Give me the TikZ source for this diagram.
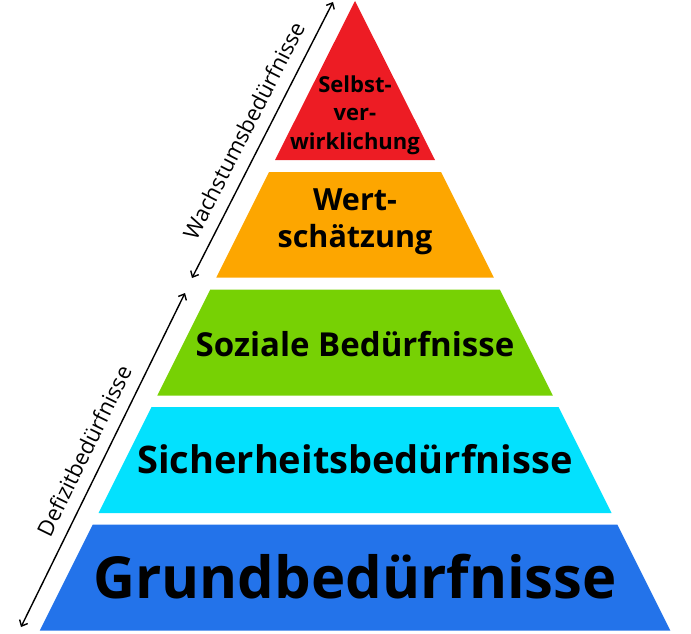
\documentclass[tikz,border=0pt]{standalone}
\usepackage{fontspec}
\setmainfont{Open Sans}
\usepackage{tikz}
\usetikzlibrary{positioning, calc, arrows.meta}
\definecolor{lred}{HTML}{ED1C24}
\definecolor{lorange}{HTML}{FDA600}
\definecolor{lgreen}{HTML}{77D104}
\definecolor{lcyan}{HTML}{03E1FE}
\definecolor{lblue}{HTML}{2373EA}
\tikzstyle{Arrow} = [
	line width=1.4pt,
	{Straight Barb[length=5pt, width=9pt]}-{Straight Barb[length=5pt, width=9pt]}
	]
\tikzstyle{Label} = [
	sloped, above=12pt, inner sep=0pt,
	font=\fontsize{22pt}{22pt}\selectfont
	]
\tikzstyle{Level} = [
	align=center, inner sep=0pt
	]

\begin{document}
\begin{tikzpicture}[x=1pt, y=-1pt]
	\useasboundingbox (0,0) rectangle (691,634);
	%layers:
		\fill [lred] (355,1) -- (435,160) -- (275,160) -- cycle;
		\fill [lorange] (269,172) -- (441,172) -- (493.75,277.5) -- (216.25,277.5) -- cycle;
		\fill [lgreen] (210.25,289.5) -- (499.75,289.5) -- (552.75,395.5) -- (157.25,395.5) -- cycle;
		\fill [lcyan] (151.5,407) -- (558.5,407) -- (611.5,513) -- (98.5,513) -- cycle;
		\fill [lblue] (92.75,524.5) -- (617.25,524.5) -- (670.25,630.5) -- (39.75,630.5) -- cycle;
	%nodes:
		\node [Level, font=\fontsize{22pt}{28.5pt}\selectfont\bfseries] (selbst) at (355,115) {Selbst-\\ver-\\wirklichung};
		\node [Level, font=\fontsize{30.5pt}{36.5pt}\selectfont\bfseries] (wert) at (355,222) {Wert-\\schätzung};
		\node [Level, anchor=base, font=\fontsize{33pt}{33pt}\selectfont\bfseries] (sozial) at (355,356) {Soziale Bedürfnisse};
		\node [Level, anchor=base, font=\fontsize{38pt}{38pt}\selectfont\bfseries] (sicher) at (355,473) {Sicherheitsbedürfnisse};
		\node [Level, anchor=base, font=\fontsize{58pt}{58pt}\selectfont\bfseries] (grund) at (355,598) {Grundbedürfnisse};
	%edges:
		\coordinate (w1) at (192,278);
		\coordinate (w2) at (333,2);
		\coordinate (d1) at (21,627);
		\coordinate (d2) at (185,293);
		\draw[Arrow] (w1) -- node[Label] (wachstum) {Wachstumsbedürfnisse} (w2);
		\draw[Arrow] (d1) -- node[Label] (defizit) {Defizitbedürfnisse} (d2);
\end{tikzpicture}
\end{document}
